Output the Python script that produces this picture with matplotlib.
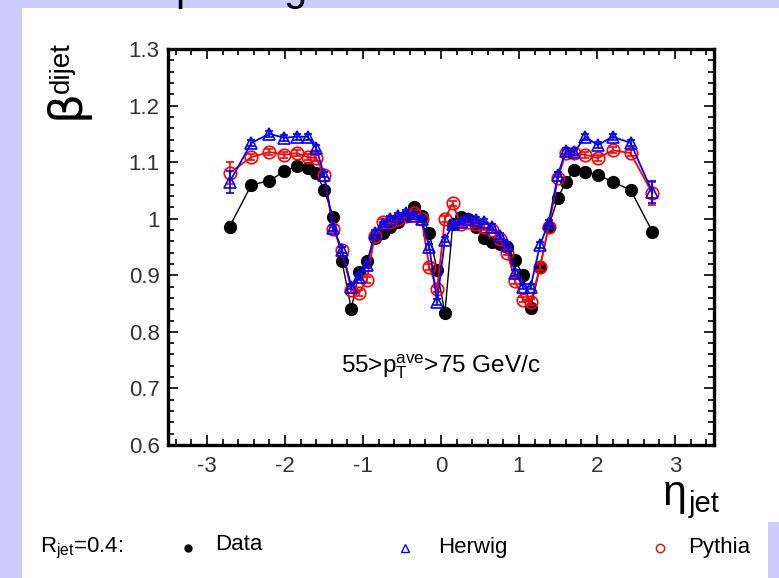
import numpy as np
import matplotlib
matplotlib.use('Agg')
import matplotlib.pyplot as plt
from matplotlib.ticker import MultipleLocator
from matplotlib.patches import Rectangle

plt.rcParams['font.family'] = ['Liberation Sans', 'DejaVu Sans']
plt.rcParams['mathtext.fontset'] = 'custom'
plt.rcParams['mathtext.rm'] = 'Liberation Sans'
plt.rcParams['mathtext.it'] = 'Liberation Sans:italic'
plt.rcParams['axes.unicode_minus'] = False

# eta bin centres (shared by data and MC)
eta = [-2.71, -2.43, -2.20, -2.01, -1.85, -1.71, -1.60, -1.50, -1.38, -1.27, -1.15,
       -1.05, -0.95, -0.85, -0.75, -0.65, -0.55, -0.45, -0.35, -0.25, -0.15, -0.05,
       0.05, 0.15, 0.25, 0.35, 0.45, 0.55, 0.65, 0.75, 0.85, 0.95, 1.05,
       1.15, 1.27, 1.38, 1.50, 1.60, 1.71, 1.85, 2.01, 2.20, 2.43, 2.71]

beta_data = [0.986, 1.060, 1.067, 1.084, 1.093, 1.090, 1.081, 1.051, 1.003, 0.925, 0.841,
             0.905, 0.925, 0.966, 0.975, 0.985, 0.995, 1.005, 1.020, 1.005, 0.975, 0.909,
             0.833, 0.990, 1.003, 1.000, 0.985, 0.966, 0.959, 0.955, 0.950, 0.927, 0.900,
             0.842, 0.915, 0.986, 1.037, 1.065, 1.086, 1.083, 1.078, 1.065, 1.051, 0.977]
err_data = [0.010] + [0.004] * 42 + [0.008]

beta_herwig = [1.065, 1.134, 1.150, 1.143, 1.145, 1.145, 1.125, 1.078, 0.984, 0.945, 0.880,
               0.897, 0.918, 0.975, 0.990, 1.000, 1.005, 1.010, 1.005, 1.000, 0.950, 0.853,
               0.963, 0.990, 0.995, 1.000, 0.998, 0.995, 0.985, 0.970, 0.953, 0.904, 0.880,
               0.880, 0.954, 0.993, 1.078, 1.120, 1.118, 1.145, 1.130, 1.145, 1.134, 1.047]
err_herwig = [0.020] + [0.005] * 42 + [0.020]

beta_pythia = [1.081, 1.109, 1.118, 1.113, 1.116, 1.109, 1.107, 1.078, 0.981, 0.945, 0.874,
               0.869, 0.892, 0.970, 0.995, 0.995, 1.000, 1.005, 1.010, 1.000, 0.915, 0.875,
               1.000, 1.027, 0.990, 0.995, 0.990, 0.985, 0.980, 0.965, 0.940, 0.890, 0.857,
               0.853, 0.915, 0.986, 1.072, 1.116, 1.116, 1.113, 1.107, 1.121, 1.116, 1.045]
err_pythia = [0.020] + [0.005] * 42 + [0.020]

fig = plt.figure(figsize=(7.79, 5.78), dpi=100)
fig.patch.set_facecolor('#ccccff')
# white slide panel behind everything
fig.patches.append(Rectangle((22 / 779, 0), 1 - 22 / 779, 1 - 8 / 578,
                             transform=fig.transFigure, facecolor='white',
                             edgecolor='none', zorder=-10))
fig.patches.append(Rectangle((768 / 779, 0), 11 / 779, 56 / 578,
                             transform=fig.transFigure, facecolor='#ccccff',
                             edgecolor='none', zorder=-9))

ax = fig.add_axes([168 / 779, 133 / 578, 546 / 779, 396 / 578])
ax.set_facecolor('white')

ax.errorbar(eta, beta_data, yerr=err_data, fmt='-o', color='black', mfc='black',
            mec='black', ms=8.5, lw=1.0, elinewidth=1.0, capsize=2, zorder=3)
ax.errorbar(eta, beta_pythia, yerr=err_pythia, fmt='-o', color='red', mfc='none',
            mec='red', ms=9, mew=1.2, lw=1.3, elinewidth=1.2, capsize=3, zorder=4)
ax.errorbar(eta, beta_herwig, yerr=err_herwig, fmt='-^', color='blue', mfc='none',
            mec='blue', ms=9, mew=1.2, lw=1.3, elinewidth=1.2, capsize=3, zorder=5)

ax.set_xlim(-3.5, 3.5)
ax.set_ylim(0.6, 1.3)
ax.xaxis.set_major_locator(MultipleLocator(1))
ax.xaxis.set_minor_locator(MultipleLocator(0.2))
ax.yaxis.set_minor_locator(MultipleLocator(0.02))
ax.set_yticks([0.6, 0.7, 0.8, 0.9, 1.0, 1.1, 1.2, 1.3])
ax.set_yticklabels(['0.6', '0.7', '0.8', '0.9', '1', '1.1', '1.2', '1.3'])
ax.tick_params(which='both', direction='in', top=True, right=True, width=1.2,
               labelsize=16, colors='black')
ax.tick_params(which='major', length=7)
ax.tick_params(which='minor', length=4)
ax.tick_params(axis='x', pad=8)
ax.tick_params(axis='y', pad=6)
for sp in ax.spines.values():
    sp.set_linewidth(2.4)

for lab in ax.get_xticklabels() + ax.get_yticklabels():
    lab.set_color('#333333')

ax.text(0.5, 0.198, r'55>p$_{\rm T}^{\rm ave}$>75 GeV/c', transform=ax.transAxes,
        ha='center', va='center', fontsize=17.5)

# axis titles
fig.text(66 / 779, 1 - 104 / 578, 'β', rotation=90, ha='center', va='center',
         fontsize=34, family='DejaVu Sans')
fig.text(62 / 779, 1 - 68 / 578, 'dijet', rotation=90, ha='center', va='center',
         fontsize=20)
fig.text(662 / 779, 1 - 505 / 578, r'$\mathrm{\eta}$', ha='left', va='baseline',
         fontsize=31)
fig.text(689 / 779, 1 - 512 / 578, 'jet', ha='left', va='baseline', fontsize=21)

# legend row
ly = 1 - 548 / 578
fig.text(40 / 779, ly, r'R$_{\rm jet}$=0.4:', ha='left', va='center', fontsize=16)
fig.lines.append(plt.Line2D([188 / 779], [ly], transform=fig.transFigure, marker='o',
                            color='black', ms=5))
fig.text(215 / 779, ly + 0.006, 'Data', ha='left', va='center', fontsize=16)
fig.lines.append(plt.Line2D([405 / 779], [ly], transform=fig.transFigure, marker='^',
                            mfc='none', mec='blue', ms=6, mew=1))
fig.text(438 / 779, ly, 'Herwig', ha='left', va='center', fontsize=16)
fig.lines.append(plt.Line2D([660 / 779], [ly], transform=fig.transFigure, marker='o',
                            mfc='none', mec='red', ms=6, mew=1))
fig.text(688 / 779, ly, 'Pythia', ha='left', va='center', fontsize=16)

# heading running off the top edge
fig.text(175 / 779, 1.0, 'p', ha='left', va='baseline', fontsize=30)
fig.text(283 / 779, 1.0, 'g', ha='left', va='baseline', fontsize=30)

fig.savefig('out.png', dpi=100, facecolor=fig.get_facecolor())
